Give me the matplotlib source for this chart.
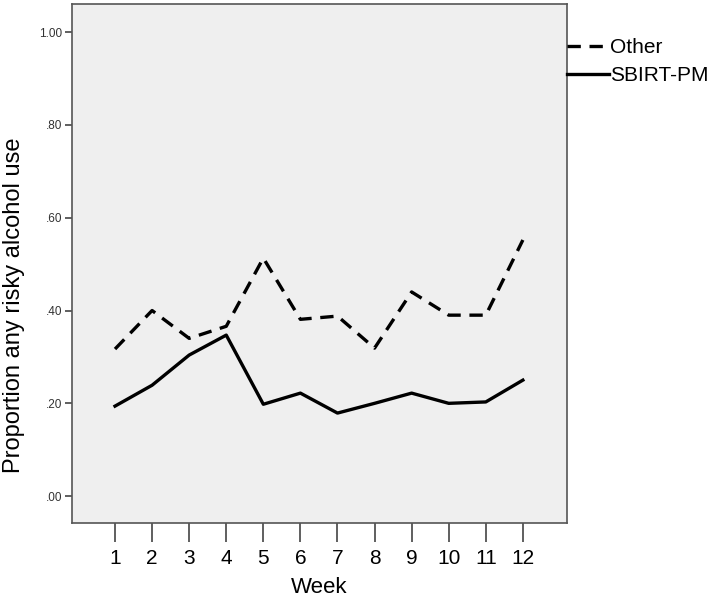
import matplotlib.pyplot as plt

plt.rcParams['font.family'] = ['Liberation Sans', 'DejaVu Sans']

weeks = list(range(1, 13))
other = [0.317, 0.40, 0.34, 0.366, 0.513, 0.381, 0.388, 0.319, 0.44, 0.39, 0.39, 0.552]
sbirt = [0.194, 0.239, 0.304, 0.347, 0.198, 0.222, 0.179, 0.20, 0.222, 0.20, 0.203, 0.25]
ytick_vals = [0.0, 0.2, 0.4, 0.6, 0.8, 1.0]
ytick_labels = ['.00', '.20', '.40', '.60', '.80', '1.00']

fig = plt.figure(figsize=(7.2, 6.04), dpi=100)
ax = fig.add_axes([0.1, 0.134, 0.6875, 0.859])
ax.set_facecolor('#efefef')

ax.plot(weeks, other, color='black', lw=2.4, ls=(0, (4.0, 2.6)), label='Other')
ax.plot(weeks, sbirt, color='black', lw=2.4, label='SBIRT-PM')

ax.set_xlim(-0.16, 13.19)
ax.set_ylim(-0.058, 1.06)
ax.set_xticks(weeks)
ax.set_xticklabels([str(w) for w in weeks], fontsize=15)
ax.set_yticks(ytick_vals)
ax.set_yticklabels(ytick_labels, fontsize=8.5, color='#333333')
ax.tick_params(axis='x', length=14, width=1.2, color='#444444', pad=5)
ax.tick_params(axis='y', length=5, width=1.2, color='#444444', pad=2)
for s in ax.spines.values():
    s.set_color('#555555')
    s.set_linewidth(1.2)

ax.set_xlabel('Week', fontsize=16, labelpad=6)
ax.set_ylabel('Proportion any risky alcohol use', fontsize=17)
ax.yaxis.set_label_coords(-0.095, 0.42)

ax.legend(loc='upper left', bbox_to_anchor=(1.0, 0.935), frameon=False,
          fontsize=15, handlelength=2.0, handletextpad=0.05, borderaxespad=0,
          labelspacing=0.45, borderpad=0)

fig.savefig('out.png', dpi=100)
